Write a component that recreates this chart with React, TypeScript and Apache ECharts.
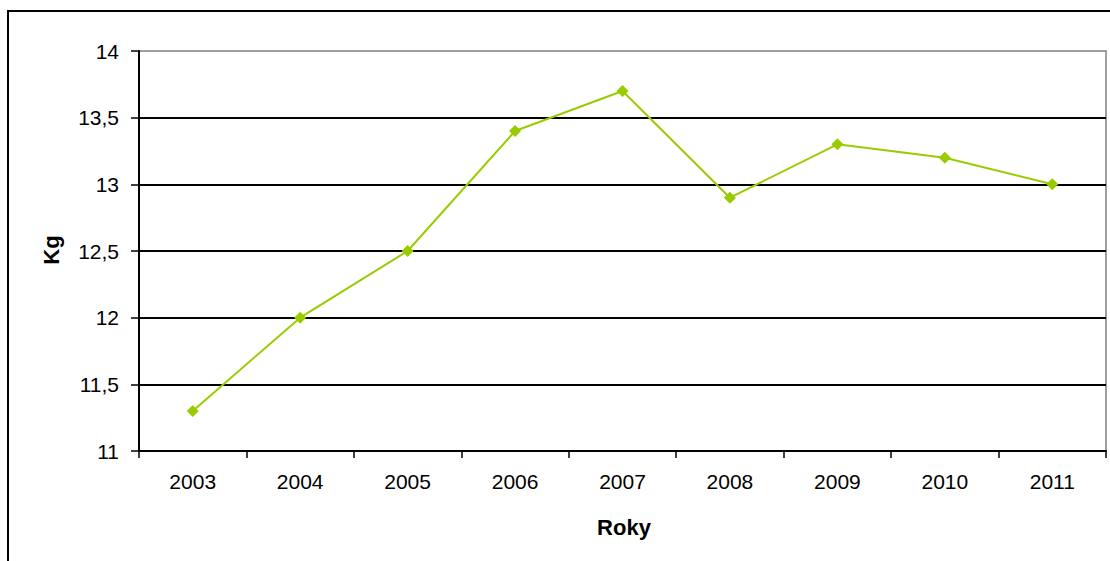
import React, { useEffect, useRef } from "react";
import * as echarts from "echarts";

// Annual values in kilograms, 2003–2011
const years = ["2003", "2004", "2005", "2006", "2007", "2008", "2009", "2010", "2011"];
const kgValues = [11.3, 12.0, 12.5, 13.4, 13.7, 12.9, 13.3, 13.2, 13.0];
const yMin = 11;
const yMax = 14;
const yStep = 0.5;

const xTitle = "Roky";
const yTitle = "Kg";

const FONT = "'Liberation Sans', Arial, sans-serif";
const LINE_GREEN = "#99CC00";

export default function App() {
  const ref = useRef<HTMLDivElement>(null);

  useEffect(() => {
    if (!ref.current) return;
    const chart = echarts.init(ref.current, null, { renderer: "svg" });
    chart.setOption({
      animation: false,
      backgroundColor: "#ffffff",
      textStyle: { fontFamily: FONT },
      grid: {
        left: 139,
        top: 51,
        right: 4,
        bottom: 110,
        show: true,
        borderColor: "#808080",
        borderWidth: 1.5,
        backgroundColor: "transparent",
      },
      graphic: [
        {
          type: "rect",
          shape: { x: 8, y: 11, width: 1200, height: 700 },
          style: { fill: "none", stroke: "#000000", lineWidth: 2 },
          z: 100,
        },
        {
          type: "text",
          x: 624,
          y: 527,
          style: {
            text: xTitle,
            font: `bold 22px ${FONT}`,
            fill: "#000000",
            align: "center",
            verticalAlign: "middle",
          },
        },
        {
          type: "text",
          x: 51,
          y: 250,
          rotation: Math.PI / 2,
          style: {
            text: yTitle,
            font: `bold 22px ${FONT}`,
            fill: "#000000",
            align: "center",
            verticalAlign: "middle",
          },
        },
      ],
      xAxis: {
        type: "category",
        data: years,
        boundaryGap: true,
        axisLine: { show: true, lineStyle: { color: "#000000", width: 2 } },
        axisTick: { show: true, interval: 0, length: 7, lineStyle: { color: "#000000", width: 1.5 } },
        axisLabel: { color: "#000000", fontSize: 21, fontFamily: FONT, margin: 20, interval: 0 },
        splitLine: { show: false },
      },
      yAxis: {
        type: "value",
        min: yMin,
        max: yMax,
        interval: yStep,
        axisLine: { show: true, lineStyle: { color: "#000000", width: 2 } },
        axisTick: { show: true, length: 8, lineStyle: { color: "#000000", width: 1.5 } },
        axisLabel: {
          color: "#000000",
          fontSize: 21,
          fontFamily: FONT,
          margin: 20,
          formatter: (v: number) => String(v).replace(".", ","),
        },
        splitLine: {
          show: true,
          showMinLine: false,
          showMaxLine: false,
          lineStyle: { color: "#000000", width: 2 },
        },
      },
      series: [
        {
          type: "line",
          data: kgValues,
          symbol: "diamond",
          symbolSize: 12,
          showAllSymbol: true,
          lineStyle: { color: LINE_GREEN, width: 2 },
          itemStyle: { color: LINE_GREEN },
          z: 5,
        },
      ],
    });
    return () => chart.dispose();
  }, []);

  return (
    <div
      ref={ref}
      style={{ position: "fixed", left: 0, top: 0, width: 1110, height: 561 }}
    />
  );
}
